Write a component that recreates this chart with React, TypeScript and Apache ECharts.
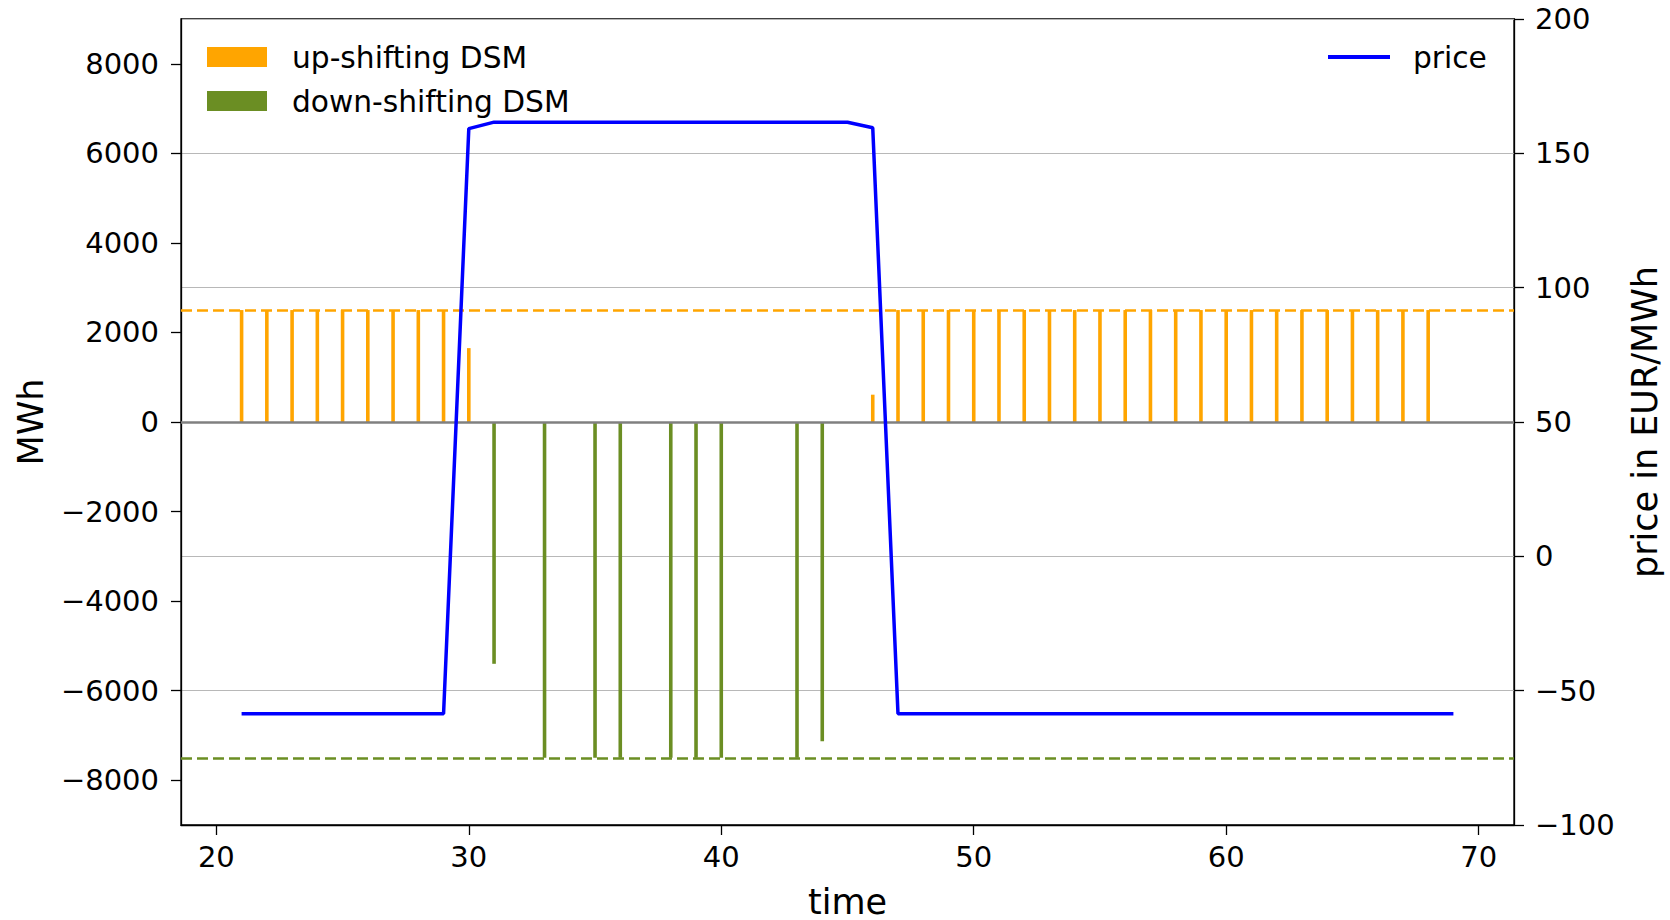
import React, { useEffect, useRef } from "react";
import * as echarts from "echarts";

// Hourly price (EUR/MWh) for hours 21..69
const priceHours = [
  21, 22, 23, 24, 25, 26, 27, 28, 29, 30, 31, 32, 33, 34, 35, 36, 37, 38, 39, 40,
  41, 42, 43, 44, 45, 46, 47, 48, 49, 50, 51, 52, 53, 54, 55, 56, 57, 58, 59, 60,
  61, 62, 63, 64, 65, 66, 67, 68, 69,
];
const priceValues = [
  -58.6, -58.6, -58.6, -58.6, -58.6, -58.6, -58.6, -58.6, -58.6, 159.2,
  161.6, 161.6, 161.6, 161.6, 161.6, 161.6, 161.6, 161.6, 161.6, 161.6,
  161.6, 161.6, 161.6, 161.6, 161.6, 159.5, -58.6, -58.6, -58.6, -58.6,
  -58.6, -58.6, -58.6, -58.6, -58.6, -58.6, -58.6, -58.6, -58.6, -58.6,
  -58.6, -58.6, -58.6, -58.6, -58.6, -58.6, -58.6, -58.6, -58.6,
];

// Up-shifting demand side management (MWh)
const upHours = [
  21, 22, 23, 24, 25, 26, 27, 28, 29, 30,
  46, 47, 48, 49, 50, 51, 52, 53, 54, 55, 56, 57, 58, 59, 60,
  61, 62, 63, 64, 65, 66, 67, 68,
];
const upValues = [
  2500, 2500, 2500, 2500, 2500, 2500, 2500, 2500, 2500, 1650,
  610, 2500, 2500, 2500, 2500, 2500, 2500, 2500, 2500, 2500, 2500, 2500, 2500, 2500, 2500,
  2500, 2500, 2500, 2500, 2500, 2500, 2500, 2500,
];

// Down-shifting demand side management (MWh)
const downHours = [31, 33, 35, 36, 38, 39, 40, 43, 44];
const downValues = [-5400, -7500, -7500, -7500, -7500, -7500, -7500, -7500, -7130];

// Capacity limits of the shifting
const upLimit = 2500;
const downLimit = -7500;

const xTicks = [20, 30, 40, 50, 60, 70];
const mwhTicks = [-8000, -6000, -4000, -2000, 0, 2000, 4000, 6000, 8000];

const FONT = "DejaVu Sans";
const ORANGE = "#FFA500";
const GREEN = "#6B8E23";
const BLUE = "#0000FF";

const minus = (v: number | string) => String(v).replace("-", "\u2212");

export default function App() {
  const ref = useRef<HTMLDivElement>(null);

  useEffect(() => {
    if (!ref.current) return;
    const chart = echarts.init(ref.current, undefined, { renderer: "svg" });

    const axisLineStyle = { color: "#000", width: 1.3 };
    const labelStyle = { fontFamily: FONT, fontSize: 29, color: "#000" };
    const legendText = {
      fontFamily: FONT,
      fontSize: 29.7,
      color: "#000",
      lineHeight: 30,
    };

    chart.setOption({
      animation: false,
      backgroundColor: "#fff",
      grid: {
        left: 181,
        right: 156,
        top: 19,
        bottom: 95,
        outerBoundsMode: "none",
        show: true,
        borderColor: "#000",
        borderWidth: 1.3,
        backgroundColor: "transparent",
      },
      legend: [
        {
          data: ["up-shifting DSM", "down-shifting DSM"],
          orient: "vertical",
          left: 207,
          top: 42,
          padding: 0,
          itemWidth: 60,
          itemHeight: 20,
          itemGap: 14,
          icon: "rect",
          textStyle: { ...legendText, padding: [0, 0, 0, 20] },
        },
        {
          data: ["price"],
          orient: "vertical",
          left: 1328,
          top: 42,
          padding: 0,
          itemWidth: 62,
          itemHeight: 4,
          icon: "rect",
          textStyle: { ...legendText, padding: [0, 0, 0, 18] },
        },
      ],
      xAxis: {
        type: "value",
        min: 18.6,
        max: 71.4,
        name: "time",
        nameLocation: "middle",
        nameGap: 59,
        nameTextStyle: { fontFamily: FONT, fontSize: 35, color: "#000" },
        axisLine: { show: true, onZero: false, lineStyle: axisLineStyle },
        axisTick: { show: true, length: 10, lineStyle: axisLineStyle, customValues: xTicks },
        axisLabel: { ...labelStyle, margin: 17, customValues: xTicks },
        splitLine: { show: false },
      },
      yAxis: [
        {
          type: "value",
          min: -9000,
          max: 9000,
          position: "left",
          name: "MWh",
          nameLocation: "middle",
          nameRotate: 90,
          nameGap: 133,
          nameTextStyle: { fontFamily: FONT, fontSize: 35, color: "#000" },
          axisLine: { show: true, onZero: false, lineStyle: axisLineStyle },
          axisTick: { show: true, length: 10, lineStyle: axisLineStyle, customValues: mwhTicks },
          axisLabel: { ...labelStyle, margin: 22, customValues: mwhTicks, formatter: minus },
          splitLine: { show: false },
        },
        {
          type: "value",
          min: -100,
          max: 200,
          interval: 50,
          position: "right",
          name: "price in EUR/MWh",
          nameLocation: "middle",
          nameRotate: 90,
          nameGap: 113,
          nameTextStyle: { fontFamily: FONT, fontSize: 35, color: "#000" },
          axisLine: { show: true, onZero: false, lineStyle: axisLineStyle },
          axisTick: { show: true, length: 10, lineStyle: axisLineStyle },
          axisLabel: { ...labelStyle, margin: 21, formatter: minus },
          splitLine: { show: true, lineStyle: { color: "#b8b8b8", width: 1.2 } },
        },
      ],
      series: [
        {
          name: "up-shifting DSM",
          type: "bar",
          stack: "dsm",
          yAxisIndex: 0,
          barWidth: 3.6,
          itemStyle: { color: ORANGE },
          data: upHours.map((h, i) => [h, upValues[i]]),
          markLine: {
            silent: true,
            symbol: ["none", "none"],
            label: { show: false },
            lineStyle: { color: ORANGE, type: [11, 5], width: 2.5 },
            data: [{ yAxis: upLimit }],
            z: 3,
          },
        },
        {
          name: "down-shifting DSM",
          type: "bar",
          stack: "dsm",
          yAxisIndex: 0,
          barWidth: 3.6,
          itemStyle: { color: GREEN },
          data: downHours.map((h, i) => [h, downValues[i]]),
          markLine: {
            silent: true,
            symbol: ["none", "none"],
            label: { show: false },
            data: [
              { yAxis: downLimit, lineStyle: { color: GREEN, type: [11, 5], width: 2.5 } },
              { yAxis: 0, lineStyle: { color: "#808080", type: "solid", width: 2.5 } },
            ],
            z: 3,
          },
        },
        {
          name: "price",
          type: "line",
          yAxisIndex: 1,
          showSymbol: false,
          symbol: "none",
          z: 5,
          lineStyle: { color: BLUE, width: 3.5 },
          itemStyle: { color: BLUE },
          data: priceHours.map((h, i) => [h, priceValues[i]]),
        },
      ],
    });

    return () => chart.dispose();
  }, []);

  return (
    <div
      ref={ref}
      style={{ position: "absolute", left: 0, top: 0, width: 1670, height: 920 }}
    />
  );
}
